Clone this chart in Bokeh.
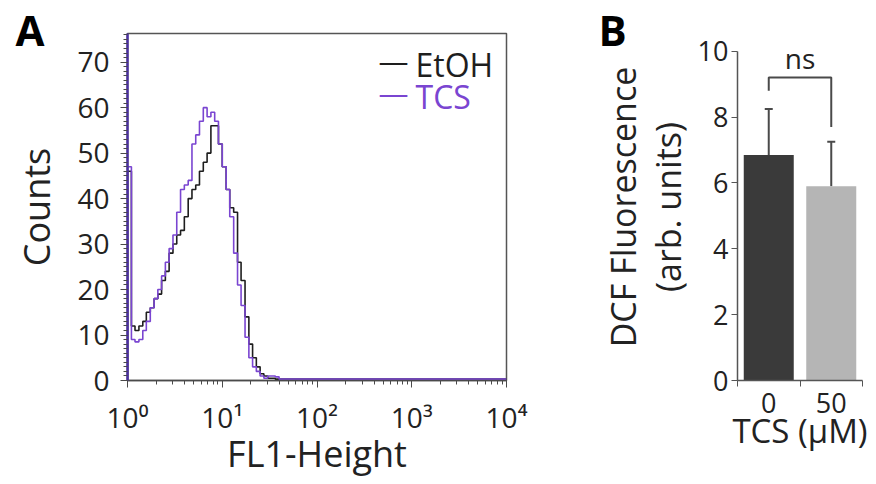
from bokeh.plotting import figure
from bokeh.layouts import row
from bokeh.models import (FixedTicker, CustomJSTickFormatter, Label, Whisker, TeeHead,
                          ColumnDataSource, Range1d, Title)
from bokeh.embed import file_html
from bokeh.resources import INLINE

# ---------------- data ----------------
# Panel A: flow-cytometry histogram (FL1 channel value, counts)
fl1 = [1.00, 1.00, 1.10, 1.20, 1.32, 1.45, 1.58, 1.74, 1.91, 2.09, 2.29, 2.51, 2.75,
       3.02, 3.31, 3.63, 3.98, 4.37, 4.79, 5.25, 5.75, 6.31, 6.92, 7.59, 8.32, 9.12,
       10.0, 11.0, 12.0, 13.2, 14.5, 15.8, 17.4, 19.1, 20.9, 22.9, 25.1, 27.5, 30.2,
       33.1, 36.3, 39.8, 10000.0]
etoh = [0, 46, 12, 11, 12, 13, 15, 16, 18, 19, 22, 24, 28,
        30, 32, 33, 36, 40, 42, 43, 46, 48, 50, 56, 56,
        52, 47, 42, 38, 37, 26, 22, 14, 8, 5, 3, 1.5,
        1, 0.5, 0.5, 0.3, 0.3, 0.3]
tcs = [0, 47, 9, 8.5, 9, 11, 13, 16, 18, 20, 23, 26, 29,
       32, 37, 42, 43, 44, 52, 54, 57, 60, 58, 59, 57,
       52, 47, 42, 36, 28, 21, 16.5, 9.5, 5, 3, 2, 1,
       0.5, 1, 1, 0.8, 0.3, 0.3]
series_names = ["EtOH", "TCS"]
y_ticks_a = [0, 10, 20, 30, 40, 50, 60, 70]
x_ticks_a = [1, 10, 100, 1000, 10000]

# Panel B: bar chart
tcs_dose = ["0", "50"]
dcf_mean = [6.85, 5.9]
dcf_sd = [1.4, 1.35]
y_ticks_b = [0, 2, 4, 6, 8, 10]
sig_text = "ns"

FONT = "Open Sans"
TXT = "#222222"
BLACK = "#1e1e1e"
PURPLE = "#7a45d1"
AX = "#4a4a4a"

# ---------------- Panel A ----------------
pa = figure(width=545, height=480, x_axis_type="log", output_backend="svg",
            toolbar_location=None, x_range=Range1d(1, 10000), y_range=Range1d(0, 76.3),
            min_border_left=127, min_border_right=39, min_border_top=33, min_border_bottom=97)
pa.grid.visible = False
pa.outline_line_color = "#555555"
pa.outline_line_width = 1.5

pa.step(fl1, etoh, mode="after", line_color=BLACK, line_width=1.6)
pa.step(fl1, tcs, mode="after", line_color=PURPLE, line_width=1.6)

minor_x = [m * 10 ** k for k in range(4) for m in range(2, 10)]
pa.xaxis.ticker = FixedTicker(ticks=x_ticks_a, minor_ticks=minor_x)
pa.xaxis.formatter = CustomJSTickFormatter(code="""
const sup = ['\u2070','\u00b9','\u00b2','\u00b3','\u2074'];
return '10' + sup[Math.round(Math.log10(tick))];
""")
pa.yaxis.ticker = FixedTicker(ticks=y_ticks_a, minor_ticks=list(range(0, 77)))

for ax in (pa.xaxis[0], pa.yaxis[0]):
    ax.major_tick_out = 7
    ax.major_tick_in = 0
    ax.minor_tick_out = 4
    ax.minor_tick_in = 0
    ax.major_label_text_font = FONT
    ax.major_label_text_font_size = "28px"
    ax.major_label_text_color = TXT
    ax.axis_label_text_font = FONT
    ax.axis_label_text_font_size = "36px"
    ax.axis_label_text_font_style = "normal"
    ax.axis_label_text_color = TXT
    ax.axis_line_width = 1.5
    ax.major_tick_line_color = AX
    ax.minor_tick_line_color = AX

pa.xaxis.axis_line_color = AX
pa.yaxis.axis_line_color = "#4a2fa0"
pa.yaxis.axis_line_width = 2.5
pa.xaxis.axis_label = "FL1-Height"
pa.yaxis.axis_label = "Counts"
pa.xaxis.major_label_standoff = 10
pa.xaxis.axis_label_standoff = -10
pa.yaxis.major_label_standoff = 11
pa.yaxis.axis_label_standoff = 13

pa.add_layout(Title(text="A", align="left", offset=-112, standoff=-48,
                    text_font=FONT, text_font_size="42px", text_font_style="bold",
                    text_color="#000000"), "above")

# legend (manual, coloured labels inside the frame)
for name, col, ly in zip(series_names, [BLACK, PURPLE], [316, 284]):
    pa.add_layout(Label(x=251, y=ly + 4, x_units="screen", y_units="screen", text="\u2014",
                        text_font=FONT, text_font_size="30px", text_color=col,
                        text_baseline="alphabetic"))
    pa.add_layout(Label(x=288, y=ly, x_units="screen", y_units="screen", text=name,
                        text_font=FONT, text_font_size="32px", text_color=col,
                        text_baseline="alphabetic"))

# ---------------- Panel B ----------------
pb = figure(width=325, height=480, output_backend="svg", toolbar_location=None,
            x_range=Range1d(-0.5, 1.5), y_range=Range1d(0, 10.54),
            min_border_left=192, min_border_right=8, min_border_top=33, min_border_bottom=97)
pb.grid.visible = False
pb.outline_line_color = None

xs = [0, 1]
src = ColumnDataSource(dict(x=xs, top=dcf_mean,
                            upper=[m + s for m, s in zip(dcf_mean, dcf_sd)],
                            color=["#3a3a3a", "#b5b5b5"]))
pb.vbar(x="x", top="top", width=0.8, bottom=0, color="color", line_color=None, source=src)
pb.add_layout(Whisker(source=src, base="x", lower="top", upper="upper",
                      line_color=AX, line_width=2,
                      upper_head=TeeHead(size=8, line_color=AX, line_width=2),
                      lower_head=None))

# significance bracket
br_top = 9.2
br_left = dcf_mean[0] + dcf_sd[0] + 0.55
br_right = dcf_mean[1] + dcf_sd[1] + 0.45
pb.line([xs[0], xs[0], xs[1], xs[1]], [br_left, br_top, br_top, br_right],
        line_color=AX, line_width=2)
pb.text(x=[(xs[0] + xs[1]) / 2], y=[br_top + 0.6], text=[sig_text], text_align="center",
        text_baseline="alphabetic", text_font={"value": FONT},
        text_font_size={"value": "28px"}, text_color=TXT)

pb.xaxis.ticker = FixedTicker(ticks=xs, minor_ticks=[-0.5, 0.5, 1.5])
pb.xaxis.major_label_overrides = {0: tcs_dose[0], 1: tcs_dose[1]}
pb.yaxis.ticker = FixedTicker(ticks=y_ticks_b)
pb.yaxis.bounds = (0, 10)
for ax in (pb.xaxis[0], pb.yaxis[0]):
    ax.axis_line_color = "#555555"
    ax.axis_line_width = 1.5
    ax.major_tick_line_color = "#555555"
    ax.minor_tick_line_color = "#555555"
    ax.major_tick_out = 6
    ax.major_tick_in = 0
    ax.minor_tick_out = 6
    ax.minor_tick_in = 0
    ax.major_label_text_font = FONT
    ax.major_label_text_font_size = "27px"
    ax.major_label_text_color = TXT
    ax.axis_label_text_font = FONT
    ax.axis_label_text_font_size = "33px"
    ax.axis_label_text_font_style = "normal"
    ax.axis_label_text_color = TXT
    ax.axis_label_text_line_height = 0.98
pb.xaxis.major_tick_line_color = None
pb.xaxis.major_label_standoff = 6
pb.xaxis.axis_label_standoff = -8
pb.yaxis.major_label_standoff = 3
pb.yaxis.axis_label_standoff = 4
pb.yaxis.axis_label_text_font_size = "34px"
pb.xaxis.axis_label = "TCS (\u00b5M)"
pb.yaxis.axis_label = "DCF Fluorescence\n(arb. units)"

pb.add_layout(Title(text="B", align="left", offset=-139, standoff=-48,
                    text_font=FONT, text_font_size="42px", text_font_style="bold",
                    text_color="#000000"), "above")

layout = row(pa, pb)
open("out.html", "w").write(file_html(layout, INLINE))
